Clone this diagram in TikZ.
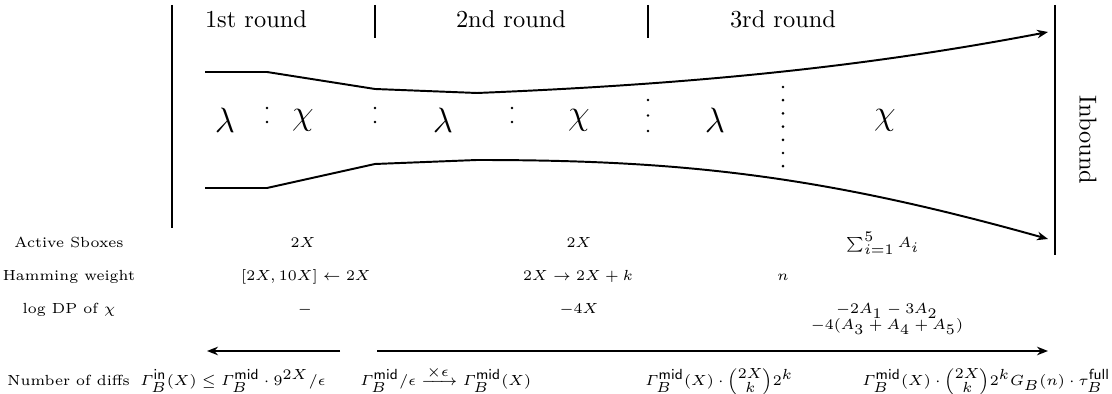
\documentclass[tikz,border=0pt]{standalone}
\usepackage{amsmath,amssymb,mathtools}
\usepackage{tikz}
\usetikzlibrary{arrows.meta}
\DeclareMathSizes{6}{6}{6}{6}
\newcommand{\tabfont}{\fontsize{6}{5.8}\selectfont}

\begin{document}
\begin{tikzpicture}[x=0.144cm,y=-0.144cm,
  bar/.style={line width=1.2pt},
  trail/.style={thick,-{Stealth[length=4.5pt,width=3.5pt]}},
  letter/.style={font=\Large},
  cell/.style={font=\tabfont,anchor=base},
  cellw/.style={font=\tabfont,anchor=base west,inner sep=0pt}]
\useasboundingbox (0,0) rectangle (111.2,39.4);
% frame and rounds
\draw[bar] (17.2,0.5) -- (17.2,22.8);
\draw[bar] (105.5,0.5) -- (105.5,25.5);
\draw[bar] (37.5,0.5) -- (37.5,3.8);
\draw[bar] (64.8,0.5) -- (64.8,3.8);
\node (rnd1) at (25.6,1.9) {1st round};
\node (rnd2) at (51.1,1.9) {2nd round};
\node (rnd3) at (78.3,1.9) {3rd round};
\node[rotate=-90] (inbound) at (108.8,14.0) {Inbound};
% the trail
\draw[trail] (20.5,7.2) -- (26.7,7.2) -- (37.5,8.9) -- (47.7,9.3)
  .. controls (70,8.4) and (87,6.6) .. (104.8,3.2);
\draw[trail] (20.5,18.8) -- (26.7,18.8) -- (37.5,16.4) -- (47.7,16.0)
  .. controls (68,16.0) and (82,17.5) .. (104.8,23.9);
\node[letter] (lam1) at (22.5,12.0) {$\lambda$};
\node[letter] (chi1) at (30.3,12.0) {$\chi$};
\node[letter] (lam2) at (44.3,12.0) {$\lambda$};
\node[letter] (chi2) at (57.9,12.0) {$\chi$};
\node[letter] (lam3) at (71.5,12.0) {$\lambda$};
\node[letter] (chi3) at (88.5,12.0) {$\chi$};
% separators
\foreach \x in {26.7,37.5,51.2}
  \foreach \y in {10.8,12.2}
    \fill (\x,\y) circle (0.6pt);
\foreach \y in {10.0,11.55,13.1}
  \fill (64.8,\y) circle (0.6pt);
\foreach \i in {0,...,6}
  \fill (78.3,{8.7+1.32*\i}) circle (0.6pt);
% table
\node[cell] (act) at (6.9,24.8) {Active Sboxes};
\node[cell] (ham) at (6.9,28.1) {Hamming weight};
\node[cell] (ldp) at (6.9,31.4) {log DP of $\chi$};
\node[cellw] (num) at (0.7,38.6) {Number of diffs};
\node[cell] (act1) at (30.3,24.8) {$2X$};
\node[cell] (act2) at (57.9,24.8) {$2X$};
\node[cell] (act3) at (88.3,24.8) {$\sum_{i=1}^{5} A_i$};
\node[cell] (ham1) at (30.6,28.1) {$[2X,10X]\leftarrow 2X$};
\node[cell] (ham2) at (57.8,28.1) {$2X\rightarrow 2X+k$};
\node[cell] (ham3) at (78.3,28.1) {$n$};
\node[cell] (ldp1) at (30.5,31.4) {$-$};
\node[cell] (ldp2) at (57.9,31.4) {$-4X$};
\node[font=\tabfont,align=center] (ldp3) at (88.7,31.9)
  {$-2A_1-3A_2$\\[-0.9pt]$-4(A_3+A_4+A_5)$};
\draw[thick,-{Stealth[length=4.5pt,width=3.5pt]}] (34.0,35.1) -- (20.7,35.1);
\draw[thick,-{Stealth[length=4.5pt,width=3.5pt]}] (37.7,35.1) -- (104.8,35.1);
\node[cellw] (num1) at (14.0,38.6)
  {$\varGamma_B^{\mathsf{in}}(X)\leq\varGamma_B^{\mathsf{mid}}\cdot 9^{2X}/\epsilon$};
\node[cellw] (num2) at (36.0,38.6)
  {$\varGamma_B^{\mathsf{mid}}/\epsilon\xrightarrow{\times\epsilon}\varGamma_B^{\mathsf{mid}}(X)$};
\node[cellw] (num3) at (64.5,38.6)
  {$\varGamma_B^{\mathsf{mid}}(X)\cdot\binom{2X}{k}2^k$};
\node[cellw] (num4) at (86.2,38.6)
  {$\varGamma_B^{\mathsf{mid}}(X)\cdot\binom{2X}{k}2^kG_B(n)\cdot\tau_B^{\mathsf{full}}$};
\end{tikzpicture}
\end{document}
